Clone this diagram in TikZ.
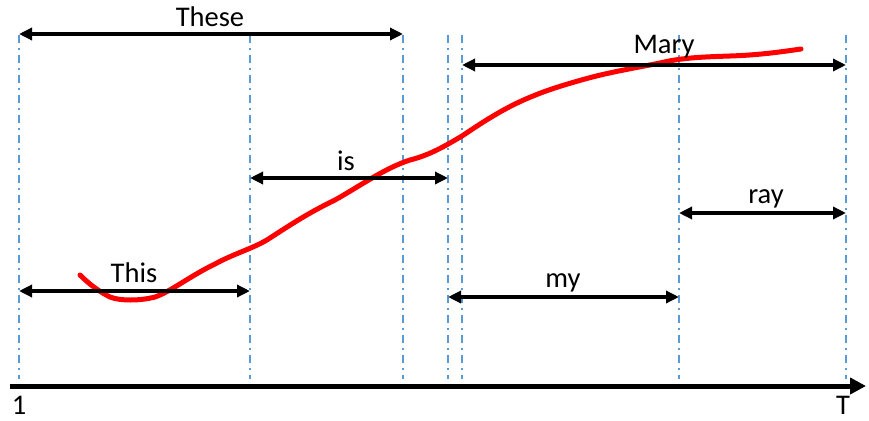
\documentclass[tikz,border=0pt]{standalone}
\usepackage{fontspec}
\setmainfont{Carlito}
\usetikzlibrary{arrows.meta}
\definecolor{guideblue}{RGB}{91,155,213}
\definecolor{curvered}{RGB}{255,0,0}
\tikzset{
  guide/.style={guideblue, line width=1.8pt, dash pattern=on 8pt off 5pt on 2pt off 5pt},
  span/.style={black, line width=3.5pt, {Triangle[length=13pt,width=12pt]}-{Triangle[length=13pt,width=12pt]}},
  lbl/.style={font=\fontsize{28.5}{33}\selectfont, inner sep=0pt, anchor=base},
  axis/.style={black, line width=5pt, -{Triangle[length=16pt,width=16pt]}}
}
\begin{document}
\begin{tikzpicture}[x=1pt,y=-1pt]
\useasboundingbox (0,0) rectangle (869,420);
% guide lines
\foreach \n/\x in {0/19,1/250,2/403,3/448,4/462,5/679,6/846}{
  \coordinate (t\n) at (\x,35);
  \coordinate (b\n) at (\x,379);
  \draw[guide] (t\n) -- (b\n);
}
% axis
\coordinate (a0) at (10,386);
\coordinate (a1) at (866,386);
\draw[axis] (a0) -- (a1);
\node[lbl, text depth=0pt] (one) at (19,414) {1};
\node[lbl, text depth=0pt] (tee) at (843,414) {T};
% red curve
\draw[curvered, line width=5pt, line cap=round, line join=round]
  (80,275) .. controls (90,285) and (100,292) .. (110,297)
  .. controls (120,301) and (140,301) .. (155,297)
  .. controls (170,292) and (190,276) .. (215,264)
  .. controls (235,253) and (255,248) .. (270,238)
  .. controls (290,225) and (310,212) .. (335,200)
  .. controls (360,186) and (385,168) .. (410,160)
  .. controls (430,155) and (445,146) .. (462,136)
  .. controls (480,124) and (495,114) .. (515,104)
  .. controls (540,92) and (560,86) .. (585,79)
  .. controls (610,72) and (640,67) .. (660,63)
  .. controls (680,58) and (700,57) .. (730,56)
  .. controls (760,55) and (780,52) .. (801,49);
% spans
\coordinate (s1a) at (19,34);  \coordinate (s1b) at (403,34);
\coordinate (s2a) at (250,178); \coordinate (s2b) at (448,178);
\coordinate (s3a) at (19,291); \coordinate (s3b) at (250,291);
\coordinate (s4a) at (462,65); \coordinate (s4b) at (846,65);
\coordinate (s5a) at (448,297); \coordinate (s5b) at (679,297);
\coordinate (s6a) at (679,213); \coordinate (s6b) at (846,213);
\draw[span] (s1a) -- (s1b);
\draw[span] (s2a) -- (s2b);
\draw[span] (s3a) -- (s3b);
\draw[span] (s4a) -- (s4b);
\draw[span] (s5a) -- (s5b);
\draw[span] (s6a) -- (s6b);
\node[lbl] (l1) at (210,27) {These};
\node[lbl] (l2) at (346,170) {is};
\node[lbl] (l3) at (134,282) {This};
\node[lbl] (l4) at (664,53) {Mary};
\node[lbl] (l5) at (563,287) {my};
\node[lbl] (l6) at (766,203) {ray};
\end{tikzpicture}
\end{document}
